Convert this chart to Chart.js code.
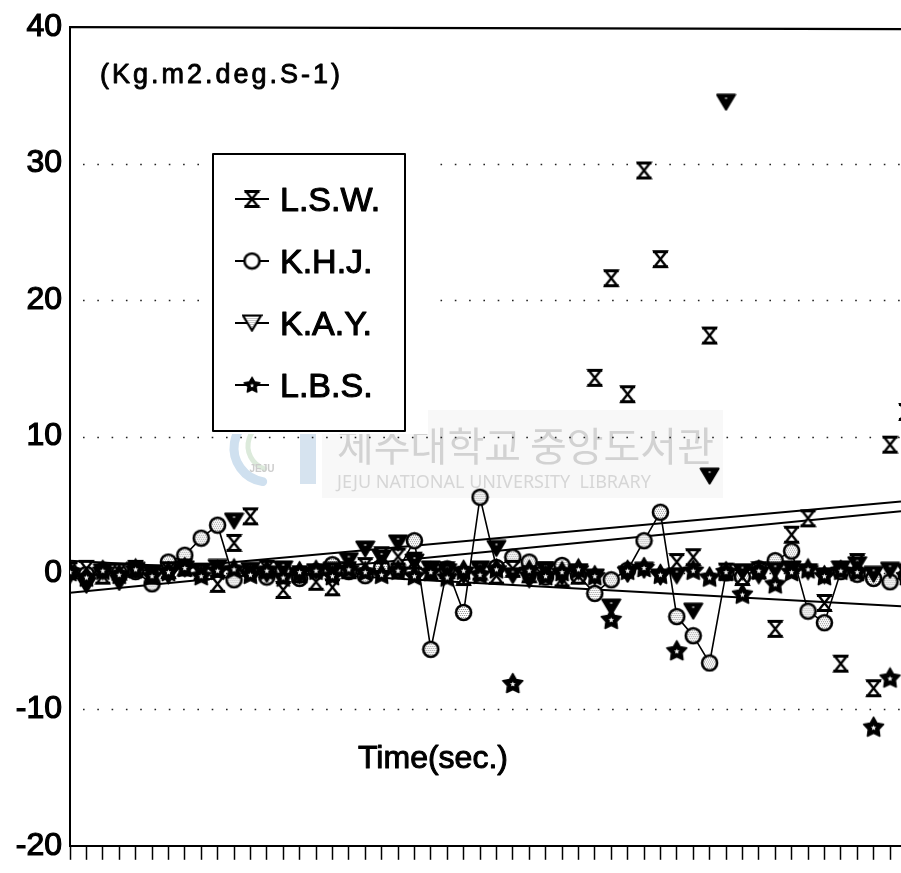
<!DOCTYPE html>
<html>
<head>
<meta charset="utf-8">
<title>Angular momentum</title>
<script src="https://cdn.jsdelivr.net/npm/chart.js@4.4.1/dist/chart.umd.min.js"></script>
<style>
    html, body { margin: 0; padding: 0; background: #fff; overflow: hidden; }
    canvas { display: block; }
</style>
</head>
<body>
<canvas id="momentChart" width="901" height="873"></canvas>
<script>
// sample index along the time axis (one per tick mark)
const timeSteps = [0, 1, 2, 3, 4, 5, 6, 7, 8, 9, 10, 11, 12, 13, 14, 15, 16, 17, 18, 19,
    20, 21, 22, 23, 24, 25, 26, 27, 28, 29, 30, 31, 32, 33, 34, 35, 36, 37, 38, 39,
    40, 41, 42, 43, 44, 45, 46, 47, 48, 49, 50, 51];

const lswValues = [0.2, 0.3, -0.2, 0.1, 0.3, -0.2, 0.2, 0.4, 0.1, -0.8,
    2.2, 4.15, 0.3, -1.25, -0.1, -0.65, -1.05, 0.2, 0.5, 1.3,
    1.2, 0.9, 0.1, 0.2, -0.3, 0.1, -0.2, 0.3, -0.1, 0.2,
    -0.4, -0.2, 14.3, 21.6, 13.1, 29.5, 23.0, 0.8, 1.15, 17.4,
    0.1, -0.3, 0.2, -4.1, 2.8, 4.0, -2.2, -6.65, 0.8, -8.45,
    9.4, 11.8];

const khjValues = [0.1, -0.1, 0.2, 0.0, 0.1, -0.8, 0.8, 1.3, 2.55, 3.5,
    -0.5, 0.1, -0.3, 0.2, -0.4, 0.1, 0.6, 0.1, -0.2, 0.4,
    0.2, 2.36, -5.6, 0.3, -2.9, 5.55, 0.4, 1.15, 0.8, -0.3,
    0.55, -0.2, -1.5, -0.5, 0.2, 2.36, 4.45, -3.2, -4.6, -6.6,
    0.0, -0.3, 0.3, 0.9, 1.6, -2.8, -3.65, 0.1, -0.1, -0.4,
    -0.65, -0.2];

const kayValues = [-0.2, -0.9, 0.1, -0.7, 0.2, 0.0, -0.2, 0.3, 0.1, 0.4,
    3.8, 0.2, -0.1, 0.3, -0.2, 0.1, 0.2, 0.9, 1.75, 1.1,
    2.2, 0.8, 0.3, 0.1, -0.2, 0.3, 1.8, -0.2, -0.5, 0.2,
    -0.3, 0.1, -0.3, -2.5, -0.1, 0.2, -0.3, -0.2, -2.8, 7.1,
    34.5, 0.1, -0.2, 0.2, 0.3, 0.1, -0.2, 0.3, 0.6, -0.1,
    0.2, 0.1];

const lbsValues = [0.1, -0.3, 0.2, -0.1, 0.3, -0.2, 0.1, 0.4, -0.2, 0.2,
    0.3, -0.1, 0.2, -0.3, 0.1, 0.2, -0.2, 0.3, 0.1, -0.1,
    0.2, -0.2, 0.1, -0.3, 0.2, -0.1, 0.3, -8.1, 0.2, -0.2,
    0.1, 0.3, -0.2, -3.4, 0.2, 0.4, -0.1, -5.7, 0.2, -0.3,
    0.1, -1.55, 0.2, -0.8, 0.1, 0.3, -0.2, 0.2, 0.1, -11.3,
    -7.7, -0.2];

const seriesNames = ['L.S.W.', 'K.H.J.', 'K.A.Y.', 'L.B.S.'];

// straight fitted lines: value at the left edge and at the right edge
const trendStart = [-0.3, -1.46, 0.9];
const trendEnd = [5.24, 4.52, -2.45];

const yTicks = [-20, -10, 0, 10, 20, 30, 40];
const gridValues = [-10, 0, 10, 20, 30];
const xMax = 50.67;

const FONT = '"Liberation Sans", Arial, Helvetica, sans-serif';

function pairs(values) {
    return timeSteps.map((t, i) => ({ x: t, y: values[i] }));
}

function markerCanvas(w, h, paint) {
    const c = document.createElement('canvas');
    c.width = w;
    c.height = h;
    paint(c.getContext('2d'), w, h);
    return c;
}

// light grey dot screen used inside the circles
function stipple(ctx, w, h) {
    ctx.fillStyle = '#fff';
    ctx.fillRect(0, 0, w, h);
    ctx.fillStyle = '#8c8c8c';
    for (let y = 0; y < h; y += 2) {
        for (let x = (y / 2) % 2; x < w; x += 2) {
            ctx.fillRect(x, y, 1, 1);
        }
    }
}

function starPath(ctx, cx, cy, ro, ri) {
    ctx.beginPath();
    for (let k = 0; k < 10; k++) {
        const r = k % 2 === 0 ? ro : ri;
        const a = -Math.PI / 2 + k * Math.PI / 5;
        const px = cx + r * Math.cos(a);
        const py = cy + r * Math.sin(a);
        if (k === 0) ctx.moveTo(px, py); else ctx.lineTo(px, py);
    }
    ctx.closePath();
}

const hourglass = markerCanvas(17, 20, (ctx, w, h) => {
    ctx.beginPath();
    ctx.moveTo(2.5, 2.5);
    ctx.lineTo(w - 2.5, 2.5);
    ctx.lineTo(2.5, h - 2.5);
    ctx.lineTo(w - 2.5, h - 2.5);
    ctx.closePath();
    ctx.fillStyle = '#fff';
    ctx.fill();
    ctx.lineWidth = 2.4;
    ctx.strokeStyle = '#000';
    ctx.stroke();
    ctx.fillStyle = '#000';
    ctx.fillRect(1, 1, w - 2, 3);
    ctx.fillRect(1, h - 4, w - 2, 3);
});

function circleMarker(screened) {
    return markerCanvas(19, 19, (ctx, w, h) => {
        ctx.beginPath();
        ctx.arc(9.5, 9.5, 7.5, 0, Math.PI * 2);
        ctx.save();
        ctx.clip();
        if (screened) {
            stipple(ctx, w, h);
        } else {
            ctx.fillStyle = '#fff';
            ctx.fillRect(0, 0, w, h);
        }
        ctx.restore();
        ctx.lineWidth = 2.6;
        ctx.strokeStyle = '#000';
        ctx.stroke();
    });
}

function triangleMarker(filled) {
    return markerCanvas(21, 18, (ctx, w, h) => {
        ctx.beginPath();
        ctx.moveTo(1.5, 1.5);
        ctx.lineTo(w - 1.5, 1.5);
        ctx.lineTo(w / 2, h - 1.5);
        ctx.closePath();
        if (filled) {
            ctx.fillStyle = '#000';
            ctx.fill();
            ctx.lineWidth = 2;
            ctx.lineJoin = 'round';
            ctx.strokeStyle = '#000';
            ctx.stroke();
            ctx.fillStyle = '#9a9a9a';
            ctx.fillRect(w / 2 - 1, 4, 2, 2);
        } else {
            ctx.save();
            ctx.clip();
            stipple(ctx, w, h);
            ctx.restore();
            ctx.lineWidth = 2.2;
            ctx.strokeStyle = '#000';
            ctx.stroke();
        }
    });
}

const starMark = markerCanvas(23, 23, (ctx) => {
    starPath(ctx, 11.5, 12, 10.5, 5.6);
    ctx.fillStyle = '#000';
    ctx.fill();
    ctx.lineWidth = 1.5;
    ctx.lineJoin = 'round';
    ctx.strokeStyle = '#000';
    ctx.stroke();
    starPath(ctx, 11.5, 12.2, 2.8, 1.3);
    ctx.fillStyle = '#fff';
    ctx.fill();
});

const circleMark = circleMarker(true);
const triMark = triangleMarker(true);
const legendMarks = [hourglass, circleMarker(false), triangleMarker(false), starMark];

function drawWatermark(ctx) {
    ctx.save();
    ctx.fillStyle = '#f8f8f8';
    ctx.fillRect(322, 410, 401, 88);

    // faint crest on the left
    ctx.lineCap = 'round';
    ctx.strokeStyle = '#cfe0ef';
    ctx.lineWidth = 9;
    ctx.beginPath();
    ctx.arc(268, 448, 34, Math.PI * 0.55, Math.PI * 1.35);
    ctx.stroke();
    ctx.strokeStyle = '#dceadb';
    ctx.lineWidth = 5;
    ctx.beginPath();
    ctx.arc(272, 446, 24, Math.PI * 0.6, Math.PI * 1.3);
    ctx.stroke();
    ctx.fillStyle = '#d6e3ef';
    ctx.fillRect(300, 420, 16, 64);
    ctx.fillStyle = '#cccccc';
    ctx.font = 'bold 10px ' + FONT;
    ctx.textAlign = 'center';
    ctx.fillText('JEJU', 262, 472);

    ctx.textAlign = 'left';
    ctx.fillStyle = '#d2d2d2';
    ctx.font = '40px "Noto Sans CJK KR", sans-serif';
    ctx.fillText('제주대학교 중앙도서관', 337, 461);
    ctx.fillStyle = '#d6d6d6';
    ctx.font = '18px "Noto Sans", sans-serif';
    ctx.fillText('JEJU NATIONAL UNIVERSITY  LIBRARY', 337, 488);
    ctx.restore();
}

// filled text with a thin outline so it reads as heavy as the printed labels
function heavyText(ctx, text, x, y, weight) {
    ctx.lineWidth = weight;
    ctx.strokeStyle = '#000';
    ctx.lineJoin = 'round';
    ctx.strokeText(text, x, y);
    ctx.fillText(text, x, y);
}

const paperFrame = {
    id: 'paperFrame',
    beforeDatasetsDraw(chart) {
        const { ctx, chartArea, scales } = chart;
        drawWatermark(ctx);

        // dotted value lines
        ctx.save();
        ctx.strokeStyle = '#222';
        ctx.lineWidth = 1.6;
        ctx.setLineDash([1.6, 12.7]);
        gridValues.forEach(v => {
            const y = Math.round(scales.y.getPixelForValue(v)) + 0.5;
            ctx.beginPath();
            ctx.moveTo(chartArea.left + 13, y);
            ctx.lineTo(chartArea.right, y);
            ctx.stroke();
        });
        ctx.restore();

        // top edge of the frame
        ctx.save();
        ctx.strokeStyle = '#000';
        ctx.lineWidth = 2.2;
        ctx.beginPath();
        ctx.moveTo(chartArea.left, chartArea.top);
        ctx.lineTo(chartArea.right, chartArea.top + 2);
        ctx.stroke();
        ctx.restore();
    },
    afterDraw(chart) {
        const ctx = chart.ctx;
        ctx.save();
        ctx.fillStyle = '#000';
        ctx.textBaseline = 'alphabetic';
        ctx.textAlign = 'left';

        ctx.font = '27px ' + FONT;
        ctx.letterSpacing = '3px';
        heavyText(ctx, '(Kg.m2.deg.S-1)', 100, 83, 0.9);
        ctx.letterSpacing = '0px';

        ctx.font = '32px ' + FONT;
        heavyText(ctx, 'Time(sec.)', 358, 768, 1);

        // legend box
        ctx.fillStyle = '#fff';
        ctx.fillRect(205, 150, 223, 284);
        ctx.strokeStyle = '#000';
        ctx.lineWidth = 2;
        ctx.strokeRect(213, 154, 192, 277);

        ctx.font = '34px ' + FONT;
        ctx.fillStyle = '#000';
        seriesNames.forEach((name, k) => {
            const cy = 199 + k * 62;
            ctx.lineWidth = 2;
            ctx.strokeStyle = '#000';
            ctx.beginPath();
            ctx.moveTo(235, cy);
            ctx.lineTo(269, cy);
            ctx.stroke();
            const m = legendMarks[k];
            const s = k === 3 ? 0.8 : 1;
            ctx.drawImage(m, 252 - m.width * s / 2, cy - m.height * s / 2, m.width * s, m.height * s);
            heavyText(ctx, name, 280, cy + 12, 1.1);
        });
        ctx.restore();
    }
};

const trendSets = trendStart.map((s, k) => ({
    label: 'trend' + k,
    data: [{ x: 0, y: s }, { x: xMax, y: trendEnd[k] }],
    showLine: true,
    borderColor: '#000',
    borderWidth: 2,
    pointRadius: 0,
    order: 5
}));

new Chart(document.getElementById('momentChart'), {
    type: 'scatter',
    data: {
        datasets: [
            {
                label: seriesNames[0],
                data: pairs(lswValues),
                pointStyle: hourglass,
                pointRadius: 8,
                showLine: false,
                order: 2
            },
            {
                label: seriesNames[1],
                data: pairs(khjValues),
                pointStyle: circleMark,
                pointRadius: 8,
                showLine: true,
                borderColor: '#000',
                borderWidth: 1.6,
                tension: 0,
                order: 3
            },
            {
                label: seriesNames[2],
                data: pairs(kayValues),
                pointStyle: triMark,
                pointRadius: 8,
                showLine: false,
                order: 1
            },
            {
                label: seriesNames[3],
                data: pairs(lbsValues),
                pointStyle: starMark,
                pointRadius: 8,
                showLine: false,
                order: 0
            },
            ...trendSets
        ]
    },
    options: {
        responsive: false,
        devicePixelRatio: 1,
        animation: false,
        layout: { autoPadding: false, padding: { top: 22, left: 0, right: 0, bottom: 4 } },
        plugins: {
            legend: { display: false },
            tooltip: { enabled: false }
        },
        scales: {
            x: {
                type: 'linear',
                min: 0,
                max: xMax,
                ticks: { display: false, stepSize: 1, maxTicksLimit: 100, includeBounds: false },
                grid: {
                    drawOnChartArea: false,
                    drawTicks: true,
                    tickLength: 14,
                    tickColor: '#000',
                    tickWidth: 1.5,
                    color: '#000'
                },
                border: { display: true, color: '#000', width: 2 }
            },
            y: {
                min: yTicks[0],
                max: yTicks[yTicks.length - 1],
                afterBuildTicks: scale => {
                    scale.ticks = yTicks.map(v => ({ value: v }));
                },
                afterFit: scale => {
                    scale.width = 70;
                },
                ticks: {
                    color: '#000',
                    padding: 8,
                    textStrokeColor: '#000',
                    textStrokeWidth: 1.2,
                    font: { family: FONT, size: 32 }
                },
                grid: { display: false, drawTicks: false },
                border: { display: true, color: '#000', width: 2 }
            }
        }
    },
    plugins: [paperFrame]
});
</script>
</body>
</html>
